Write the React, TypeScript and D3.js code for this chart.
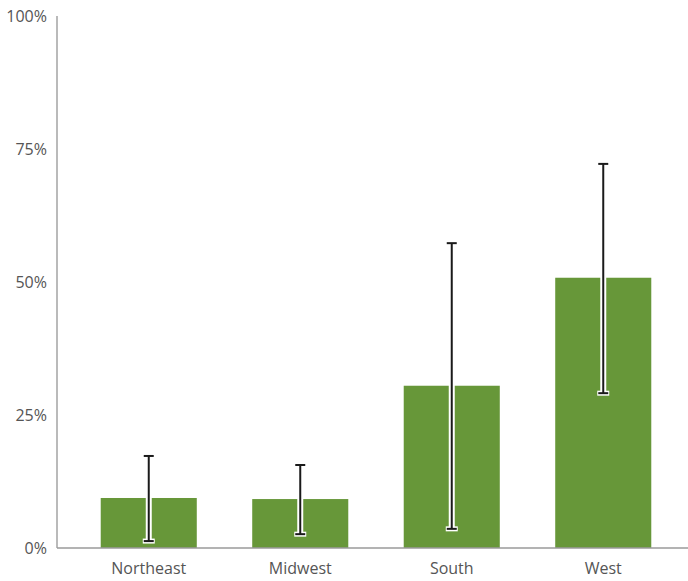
import React from "react";
import * as d3 from "d3";

const categories = ["Northeast", "Midwest", "South", "West"];
const values = [9.4, 9.2, 30.5, 50.8];
const errLow = [1.3, 2.6, 3.6, 29.1];
const errHigh = [17.3, 15.6, 57.3, 72.2];
const yTicks = [0, 25, 50, 75, 100];

const W = 688, H = 581;
const left = 57, top = 16, bottom = 548;

export default function App() {
  const x = d3.scaleBand<string>().domain(categories).range([73, 679]).paddingInner(0.366).paddingOuter(0.183);
  const y = d3.scaleLinear().domain([0, 100]).range([bottom, top]);
  const bw = x.bandwidth();
  const font = "'Open Sans', Lato, sans-serif";
  return (
    <svg width={W} height={H} style={{ position: "absolute", left: 0, top: 0 }}>
      {categories.map((c, i) => {
        const cx = (x(c) as number) + bw / 2;
        return (
          <rect key={c} x={x(c)} y={y(values[i])} width={bw} height={bottom - y(values[i])} fill="#679739" />
        );
      })}
      <line x1={left} x2={left} y1={top} y2={bottom} stroke="#8c8c8c" strokeWidth={1.2} />
      <line x1={left} x2={W} y1={bottom} y2={bottom} stroke="#9a9a9a" strokeWidth={1.5} />
      {categories.map((c, i) => {
        const cx = (x(c) as number) + bw / 2;
        const yl = y(errLow[i]), yh = y(errHigh[i]);
        return (
          <g key={c + "e"}>
            <line x1={cx} x2={cx} y1={yh} y2={yl} stroke="#fff" strokeWidth={6} />
            <line x1={cx - 6} x2={cx + 6} y1={yl} y2={yl} stroke="#fff" strokeWidth={5} />
            <line x1={cx} x2={cx} y1={yh} y2={yl} stroke="#1a1a1a" strokeWidth={2} />
            <line x1={cx - 5} x2={cx + 5} y1={yh} y2={yh} stroke="#1a1a1a" strokeWidth={2} />
            <line x1={cx - 5} x2={cx + 5} y1={yl} y2={yl} stroke="#1a1a1a" strokeWidth={2} />
          </g>
        );
      })}
      {yTicks.map((t) => (
        <text key={t} x={47} y={y(t) + 6} textAnchor="end" fontFamily={font} fontSize={16} fill="#555">
          {t}%
        </text>
      ))}
      {categories.map((c) => (
        <text key={c + "l"} x={(x(c) as number) + bw / 2} y={574} textAnchor="middle" fontFamily={font} fontSize={16} fill="#555">
          {c}
        </text>
      ))}
    </svg>
  );
}
